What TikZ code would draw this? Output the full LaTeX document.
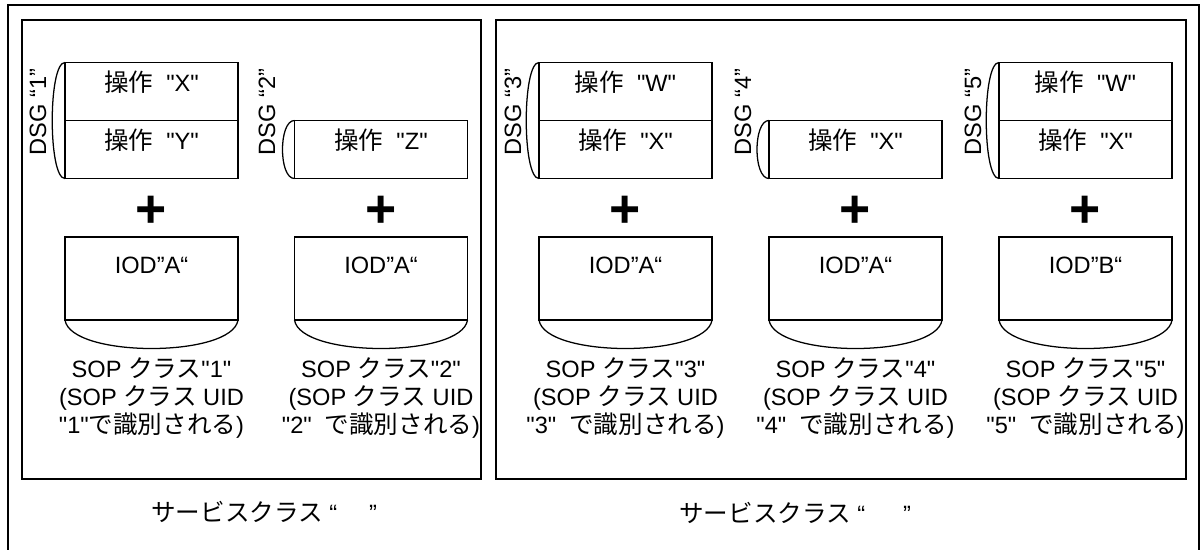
\documentclass[tikz,border=0pt]{standalone}
\usepackage{fontspec}
\setmainfont{Liberation Sans}[Ligatures=TeXOff]
\newfontfamily\jpfont{Noto Sans CJK JP}[Scale=1.04]
\newcommand{\jp}[1]{{\jpfont #1}}
\usetikzlibrary{positioning}

\begin{document}
\begin{tikzpicture} [x=0.025cm, y=-0.025cm, line width=0.9pt, font=\fontsize{16.8}{20}\selectfont, panel/.style={draw, line width=1.7pt}, opbox/.style={rectangle, draw, outer sep=0pt, inner sep=0pt, minimum width=4.325cm, minimum height=1.45cm, text height=0.5cm, text depth=0.5cm}, iodbox/.style={rectangle, draw, outer sep=0pt, inner sep=0pt, minimum width=4.325cm, minimum height=2.075cm, text height=0.4cm, text depth=0.65cm}, dsg/.style={rotate=90}, plus/.style={font=\fontsize{38}{38}\selectfont\bfseries}, sop/.style={align=center}]
	\useasboundingbox (0,0) rectangle (1200,550);
	
	% frames
	\draw (8,550) |- (1199,5) -- (1199,550);
	\draw [panel] (22,20) rectangle (481,479);
	\draw [panel] (496,20) rectangle (1186,479);
	
	% operations
	\node [opbox] (op1a) at (151.5,91.5) {\jp{操作}\hspace{0.55em}"X"};
	\node [opbox, below=0pt of op1a] (op1b) {\jp{操作}\hspace{0.55em}"Y"};
	\node [opbox] (op2) at (381,149.5) {\jp{操作}\hspace{0.55em}"Z"};
	\node [opbox] (op3a) at (625.5,91.5) {\jp{操作}\hspace{0.55em}"W"};
	\node [opbox, below=0pt of op3a] (op3b) {\jp{操作}\hspace{0.55em}"X"};
	\node [opbox] (op4) at (855.5,149.5) {\jp{操作}\hspace{0.55em}"X"};
	\node [opbox] (op5a) at (1085.5,91.5) {\jp{操作}\hspace{0.55em}"W"};
	\node [opbox, below=0pt of op5a] (op5b) {\jp{操作}\hspace{0.55em}"X"};
	
	% groups
	\node [dsg] (dsg1) at (38,112) {DSG “1”};
	\node [dsg] (dsg2) at (267,112) {DSG “2”};
	\node [dsg] (dsg3) at (513,112) {DSG “3”};
	\node [dsg] (dsg4) at (743,112) {DSG “4”};
	\node [dsg] (dsg5) at (973,112) {DSG “5”};
	\draw (op1a.north west) .. controls +(-17,0) and +(-17,0) .. (op1b.south west);
	\draw (op2.north west) .. controls +(-16,0) and +(-16,0) .. (op2.south west);
	\draw (op3a.north west) .. controls +(-17,0) and +(-17,0) .. (op3b.south west);
	\draw (op4.north west) .. controls +(-16,0) and +(-16,0) .. (op4.south west);
	\draw (op5a.north west) .. controls +(-17,0) and +(-17,0) .. (op5b.south west);
	
	% plus signs
	\node [plus] (plus1) at (151.5,212) {+};
	\node [plus] (plus2) at (381,212) {+};
	\node [plus] (plus3) at (625.5,212) {+};
	\node [plus] (plus4) at (855.5,212) {+};
	\node [plus] (plus5) at (1085.5,212) {+};
	
	% IODs
	\node [iodbox] (iod1) at (151.5,278.5) {IOD”A“};
	\node [iodbox] (iod2) at (381,278.5) {IOD”A“};
	\node [iodbox] (iod3) at (625.5,278.5) {IOD”A“};
	\node [iodbox] (iod4) at (855.5,278.5) {IOD”A“};
	\node [iodbox] (iod5) at (1085.5,278.5) {IOD”B“};
	\draw (iod1.south west) .. controls +(6,38) and +(-6,38) .. (iod1.south east);
	\draw (iod2.south west) .. controls +(6,38) and +(-6,38) .. (iod2.south east);
	\draw (iod3.south west) .. controls +(6,38) and +(-6,38) .. (iod3.south east);
	\draw (iod4.south west) .. controls +(6,38) and +(-6,38) .. (iod4.south east);
	\draw (iod5.south west) .. controls +(6,38) and +(-6,38) .. (iod5.south east);
	
	% SOP classes
	\node [sop] (sop1) at (151.5,398) {SOP \jp{クラス}"1"\\(SOP \jp{クラス} UID\\"1"\jp{で識別される})};
	\node [sop] (sop2) at (381,398) {SOP \jp{クラス}"2"\\(SOP \jp{クラス} UID\\"2"\hspace{0.55em}\jp{で識別される})};
	\node [sop] (sop3) at (625.5,398) {SOP \jp{クラス}"3"\\(SOP \jp{クラス} UID\\"3"\hspace{0.55em}\jp{で識別される})};
	\node [sop] (sop4) at (855.5,398) {SOP \jp{クラス}"4"\\(SOP \jp{クラス} UID\\"4"\hspace{0.55em}\jp{で識別される})};
	\node [sop] (sop5) at (1085.5,398) {SOP \jp{クラス}"5"\\(SOP \jp{クラス} UID\\"5"\hspace{0.55em}\jp{で識別される})};
	
	% service classes
	\node [anchor=west] (svc1) at (146,512) {\jp{サービスクラス} “\hspace{0.8cm}”};
	\node [anchor=west] (svc2) at (674,513) {\jp{サービスクラス} “\hspace{0.95cm}”};
\end{tikzpicture}
\end{document}
